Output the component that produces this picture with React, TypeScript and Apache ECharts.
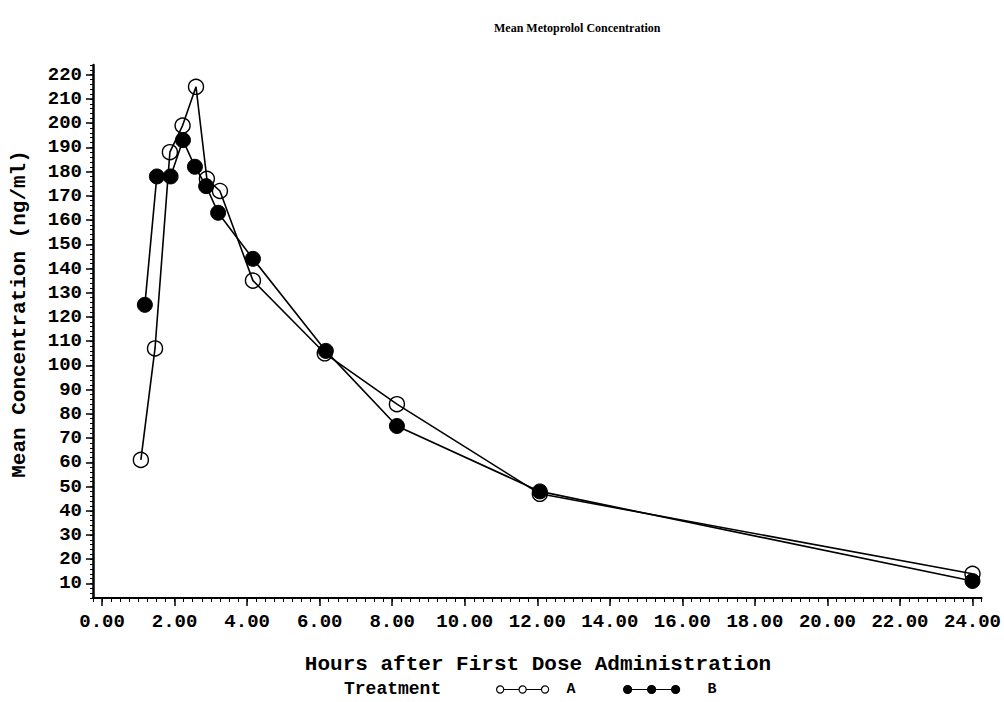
import React, { useEffect, useRef } from 'react';
import * as echarts from 'echarts';

// ---- data ----
const chartTitle = 'Mean Metoprolol Concentration';
const xTitle = 'Hours after First Dose Administration';
const yTitle = 'Mean Concentration (ng/ml)';
const legendTitle = 'Treatment';
const seriesNames = ['A', 'B'];

const hoursA = [1.07, 1.46, 1.87, 2.22, 2.59, 2.89, 3.25, 4.16, 6.14, 8.13, 12.07, 24.0];
const concA = [61, 107, 188, 199, 215, 177, 172, 135, 105, 84, 47, 14];
const hoursB = [1.18, 1.51, 1.89, 2.23, 2.56, 2.87, 3.2, 4.16, 6.17, 8.13, 12.07, 24.0];
const concB = [125, 178, 178, 193, 182, 174, 163, 144, 106, 75, 48, 11];

const xTickLabels = [0, 2, 4, 6, 8, 10, 12, 14, 16, 18, 20, 22, 24];
const yTickLabels = [10, 20, 30, 40, 50, 60, 70, 80, 90, 100, 110, 120, 130, 140, 150, 160, 170, 180, 190, 200, 210, 220];

const iconA = 'path://M0.5,4A3.5,3.5 0 1 1 7.5,4A3.5,3.5 0 1 1 0.5,4Z M7.5,4L22.5,4 M22.5,4A3.5,3.5 0 1 1 29.5,4A3.5,3.5 0 1 1 22.5,4Z M29.5,4L44.5,4 M44.5,4A3.5,3.5 0 1 1 51.5,4A3.5,3.5 0 1 1 44.5,4Z';
const iconB = 'path://M0,4A4,4 0 1 1 8,4A4,4 0 1 1 0,4Z M8,4L24,4 M24,4A4,4 0 1 1 32,4A4,4 0 1 1 24,4Z M32,4L48,4 M48,4A4,4 0 1 1 56,4A4,4 0 1 1 48,4Z';

export default function App() {
  const ref = useRef<HTMLDivElement>(null);

  useEffect(() => {
    if (!ref.current) return;
    const chart = echarts.init(ref.current, null, { renderer: 'svg' });
    const mono = 'Liberation Mono';
    const xMin = -0.25, xMax = 24.25, yMin = 4, yMax = 224;
    const pairs = (xs: number[], ys: number[]) => xs.map((x, i) => [x, ys[i]]);

    chart.setOption({
      animation: false,
      backgroundColor: '#ffffff',
      title: {
        text: chartTitle,
        left: 494,
        top: 22,
        padding: 0,
        textStyle: { fontFamily: 'Liberation Serif', fontWeight: 'bold', fontSize: 12, color: '#000' },
      },
      grid: { left: 93, right: 22, top: 65, bottom: 104 },
      xAxis: [
        {
          type: 'value', min: xMin, max: xMax, interval: 0.25, position: 'bottom',
          axisLine: { show: true, onZero: false, lineStyle: { color: '#000', width: 2 } },
          axisTick: { show: true, length: 4, lineStyle: { color: '#000', width: 1 } },
          axisLabel: { show: false },
          splitLine: { show: false },
        },
        {
          type: 'value', min: xMin, max: xMax, position: 'bottom',
          axisLine: { show: false, onZero: false },
          axisTick: { show: true, length: 8, customValues: xTickLabels, lineStyle: { color: '#000', width: 1.5 } },
          axisLabel: {
            show: true, customValues: xTickLabels, margin: 14,
            formatter: (v: number) => v.toFixed(2),
            fontFamily: mono, fontWeight: 'bold', fontSize: 19, color: '#000',
          },
          splitLine: { show: false },
        },
      ],
      yAxis: [
        {
          type: 'value', min: yMin, max: yMax, interval: 2, position: 'left',
          axisLine: { show: true, onZero: false, lineStyle: { color: '#000', width: 2.5 } },
          axisTick: { show: true, length: 3, lineStyle: { color: '#000', width: 1 } },
          axisLabel: { show: false },
          splitLine: { show: false },
        },
        {
          type: 'value', min: yMin, max: yMax, position: 'left',
          axisLine: { show: false, onZero: false },
          axisTick: { show: true, length: 7, customValues: yTickLabels, lineStyle: { color: '#000', width: 1.5 } },
          axisLabel: {
            show: true, customValues: yTickLabels, margin: 11,
            fontFamily: mono, fontWeight: 'bold', fontSize: 19, color: '#000',
          },
          splitLine: { show: false },
        },
      ],
      legend: [
        {
          data: [{ name: seriesNames[0], icon: iconA, itemStyle: { color: 'transparent', borderColor: '#000', borderWidth: 1.2 } }],
          left: 496, top: 682, itemWidth: 52, itemHeight: 8, padding: 0,
          selectedMode: false,
          textStyle: { fontFamily: mono, fontWeight: 'bold', fontSize: 15, color: '#000', padding: [0, 0, 0, 13] },
        },
        {
          data: [{ name: seriesNames[1], icon: iconB, itemStyle: { color: '#000', borderColor: '#000', borderWidth: 1.2 } }],
          left: 623, top: 682, itemWidth: 56, itemHeight: 8, padding: 0,
          selectedMode: false,
          textStyle: { fontFamily: mono, fontWeight: 'bold', fontSize: 15, color: '#000', padding: [4, 0, 0, 23] },
        },
      ],
      graphic: [
        {
          type: 'text', x: 19, y: 314, rotation: Math.PI / 2,
          style: {
            text: yTitle, fontFamily: mono, fontWeight: 'bold', fontSize: 21, fill: '#000',
            align: 'center', verticalAlign: 'middle',
          },
        },
        {
          type: 'text', x: 538, y: 664,
          style: {
            text: xTitle, fontFamily: mono, fontWeight: 'bold', fontSize: 21, fill: '#000',
            align: 'center', verticalAlign: 'middle',
          },
        },
        {
          type: 'text', x: 344, y: 689,
          style: {
            text: legendTitle, fontFamily: mono, fontWeight: 'bold', fontSize: 18, fill: '#000',
            align: 'left', verticalAlign: 'middle',
          },
        },
      ],
      series: [
        {
          name: seriesNames[0], type: 'line', xAxisIndex: 0, yAxisIndex: 0,
          data: pairs(hoursA, concA),
          symbol: 'circle', symbolSize: 15, showSymbol: true,
          itemStyle: { color: 'transparent', borderColor: '#000', borderWidth: 1.4 },
          lineStyle: { color: '#000', width: 1.6 },
          emphasis: { disabled: true },
          z: 2,
        },
        {
          name: seriesNames[1], type: 'line', xAxisIndex: 0, yAxisIndex: 0,
          data: pairs(hoursB, concB),
          symbol: 'circle', symbolSize: 15, showSymbol: true,
          itemStyle: { color: '#000', borderColor: '#000', borderWidth: 1 },
          lineStyle: { color: '#000', width: 1.6 },
          emphasis: { disabled: true },
          z: 3,
        },
      ],
    });

    return () => chart.dispose();
  }, []);

  return (
    <div
      ref={ref}
      style={{ position: 'absolute', left: 0, top: 0, width: 1004, height: 702, background: '#fff' }}
    />
  );
}
